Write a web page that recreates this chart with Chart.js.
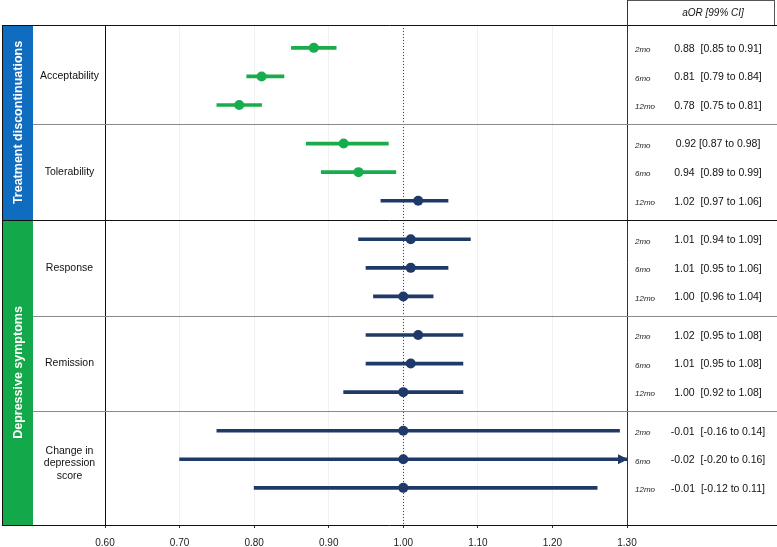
<!DOCTYPE html>
<html>
<head>
<meta charset="utf-8">
<script src="https://cdn.jsdelivr.net/npm/chart.js@4.4.1/dist/chart.umd.min.js"></script>
<style>
    html, body { margin: 0; padding: 0; background: #fff; }
    #wrap { width: 777px; height: 547px; }
</style>
</head>
<body>
<div id="wrap"><canvas id="forest"></canvas></div>
<script>
// ---- Data ----
const groups = ['Treatment discontinuations', 'Depressive symptoms'];
const outcomes = ['Acceptability', 'Tolerability', 'Response', 'Remission', 'Change in\ndepression\nscore'];
const outcomeGroup = [0, 0, 1, 1, 1];
const periods = ['2mo', '6mo', '12mo'];

// one entry per outcome x period (plotted position on the aOR axis)
const estimates = [0.88, 0.81, 0.78, 0.92, 0.94, 1.02, 1.01, 1.01, 1.00, 1.02, 1.01, 1.00, 1.00, 1.00, 1.00];
const lower = [0.85, 0.79, 0.75, 0.87, 0.89, 0.97, 0.94, 0.95, 0.96, 0.95, 0.95, 0.92, 0.75, 0.70, 0.80];
const upper = [0.91, 0.84, 0.81, 0.98, 0.99, 1.06, 1.09, 1.06, 1.04, 1.08, 1.08, 1.08, 1.29, 1.30, 1.26];
const ciLabels = [
    '0.88  [0.85 to 0.91]', '0.81  [0.79 to 0.84]', '0.78  [0.75 to 0.81]',
    '0.92 [0.87 to 0.98]', '0.94  [0.89 to 0.99]', '1.02  [0.97 to 1.06]',
    '1.01  [0.94 to 1.09]', '1.01  [0.95 to 1.06]', '1.00  [0.96 to 1.04]',
    '1.02  [0.95 to 1.08]', '1.01  [0.95 to 1.08]', '1.00  [0.92 to 1.08]',
    '-0.01  [-0.16 to 0.14]', '-0.02  [-0.20 to 0.16]', '-0.01  [-0.12 to 0.11]'
];
const significant = [true, true, true, true, true, false, false, false, false, false, false, false, false, false, false];
const xTicks = [0.60, 0.70, 0.80, 0.90, 1.00, 1.10, 1.20, 1.30];

// ---- Layout helpers ----
const GREEN = '#17ad4c';
const NAVY = '#1f3a69';
const GROUP_COLORS = ['#0f6cbf', '#13a84a'];
const SECTION_GAP = 0.35;
const FONT = '"Liberation Sans", Arial, Helvetica, sans-serif';

const rowPos = function (i) {
    return i + Math.floor(i / periods.length) * SECTION_GAP;
};
const nRows = estimates.length;
const yMin = -0.8;
const yMax = rowPos(nRows - 1) + 1.3;

// boundary between section s-1 and s
const sectionEdge = function (s) {
    if (s <= 0) { return yMin; }
    if (s >= outcomes.length) { return yMax; }
    const k = s * periods.length;
    return (rowPos(k - 1) + rowPos(k)) / 2;
};

const colors = significant.map(s => (s ? GREEN : NAVY));
const barData = estimates.map((v, i) => ({ x: [lower[i], upper[i]], y: rowPos(i) }));
const pointData = estimates.map((v, i) => ({ x: v, y: rowPos(i) }));

const hline = function (ctx, x0, x1, y, color) {
    ctx.strokeStyle = color;
    ctx.beginPath();
    ctx.moveTo(x0, Math.round(y) + 0.5);
    ctx.lineTo(x1, Math.round(y) + 0.5);
    ctx.stroke();
};
const vline = function (ctx, x, y0, y1, color) {
    ctx.strokeStyle = color;
    ctx.beginPath();
    ctx.moveTo(Math.round(x) + 0.5, y0);
    ctx.lineTo(Math.round(x) + 0.5, y1);
    ctx.stroke();
};

const panelPlugin = {
    id: 'forestPanels',
    beforeDatasetsDraw(chart) {
        const { ctx, chartArea: a, scales: { x } } = chart;
        ctx.save();
        ctx.lineWidth = 1;
        ctx.setLineDash([1, 2]);
        vline(ctx, x.getPixelForValue(1), a.top, a.bottom, '#444');
        ctx.restore();
    },
    afterDatasetsDraw(chart) {
        // arrow where the interval runs off the axis
        const { ctx, scales: { x, y } } = chart;
        ctx.save();
        ctx.fillStyle = NAVY;
        upper.forEach((u, i) => {
            if (u >= x.max) {
                const tip = x.getPixelForValue(x.max) + 1;
                const py = y.getPixelForValue(rowPos(i));
                ctx.beginPath();
                ctx.moveTo(tip, py);
                ctx.lineTo(tip - 10, py - 5);
                ctx.lineTo(tip - 10, py + 5);
                ctx.closePath();
                ctx.fill();
            }
        });
        ctx.restore();
    },
    afterDraw(chart) {
        const { ctx, chartArea: a, scales: { y } } = chart;
        const W = chart.width;
        const left = 2;
        const bandRight = 33;
        ctx.save();
        ctx.lineWidth = 1;

        // group colour bands with rotated titles
        let sStart = 0;
        groups.forEach((g, gi) => {
            const count = outcomeGroup.filter(v => v === gi).length;
            const top = y.getPixelForValue(sectionEdge(sStart));
            const bottom = y.getPixelForValue(sectionEdge(sStart + count));
            ctx.fillStyle = GROUP_COLORS[gi];
            ctx.fillRect(left, top, bandRight - left, bottom - top);
            ctx.save();
            ctx.translate((left + bandRight) / 2 + 1, (top + bottom) / 2);
            ctx.rotate(-Math.PI / 2);
            ctx.fillStyle = '#fff';
            ctx.font = 'bold 12.5px ' + FONT;
            ctx.textAlign = 'center';
            ctx.textBaseline = 'middle';
            ctx.fillText(g, 0, 0);
            ctx.restore();
            sStart += count;
        });

        // outcome labels
        ctx.fillStyle = '#111';
        ctx.font = '10.5px ' + FONT;
        ctx.textAlign = 'center';
        ctx.textBaseline = 'middle';
        outcomes.forEach((o, s) => {
            const lines = o.split('\n');
            const mid = y.getPixelForValue(rowPos(s * periods.length + 1)) + (lines.length > 1 ? 4 : 0);
            lines.forEach((ln, li) => {
                ctx.fillText(ln, (bandRight + a.left) / 2 + 0.5, mid + (li - (lines.length - 1) / 2) * 12.5);
            });
        });

        // right-hand table
        ctx.textAlign = 'center';
        ctx.font = 'italic 10px ' + FONT;
        ctx.fillText('aOR [99% CI]', a.right + 86, 13);
        estimates.forEach((v, i) => {
            const py = y.getPixelForValue(rowPos(i)) + 1;
            ctx.textAlign = 'left';
            ctx.font = 'italic 8px ' + FONT;
            ctx.fillStyle = '#222';
            ctx.fillText(periods[i % periods.length], a.right + 8, py + 1);
            ctx.textAlign = 'center';
            ctx.font = '10.5px ' + FONT;
            ctx.fillStyle = '#111';
            ctx.fillText(ciLabels[i], a.right + 91, py);
        });

        // frame
        hline(ctx, left, W, a.top, '#111');
        hline(ctx, a.right, W - 2, 0, '#555');
        vline(ctx, W - 3, 0, a.top, '#555');
        hline(ctx, left, W, a.bottom, '#111');
        vline(ctx, left, a.top, a.bottom, '#111');
        vline(ctx, a.left, a.top, a.bottom, '#111');
        vline(ctx, a.right, 0, a.bottom, '#333');
        for (let s = 1; s < outcomes.length; s++) {
            const py = y.getPixelForValue(sectionEdge(s));
            const groupBreak = outcomeGroup[s] !== outcomeGroup[s - 1];
            if (groupBreak) {
                hline(ctx, left, W, py, '#111');
            } else {
                hline(ctx, bandRight, W, py, '#8a8a8a');
            }
        }
        ctx.restore();
    }
};

new Chart(document.getElementById('forest').getContext('2d'), {
    type: 'bar',
    data: {
        datasets: [{
            type: 'bar',
            indexAxis: 'y',
            data: barData,
            backgroundColor: colors,
            barThickness: 3,
            borderWidth: 0,
            order: 2
        }, {
            type: 'scatter',
            data: pointData,
            backgroundColor: colors,
            borderWidth: 0,
            pointRadius: 5,
            order: 1
        }]
    },
    options: {
        indexAxis: 'y',
        responsive: true,
        maintainAspectRatio: false,
        animation: false,
        layout: { padding: { left: 105, right: 150, top: 25, bottom: 0 } },
        plugins: {
            legend: { display: false },
            tooltip: { enabled: false }
        },
        scales: {
            x: {
                type: 'linear',
                position: 'bottom',
                min: 0.6,
                max: 1.3,
                afterBuildTicks: function (scale) {
                    scale.ticks = xTicks.map(v => ({ value: v }));
                },
                afterFit: function (scale) {
                    scale.height = 22;
                },
                ticks: {
                    padding: 9,
                    color: '#222',
                    font: { family: FONT, size: 10 },
                    callback: v => Number(v).toFixed(2)
                },
                grid: {
                    color: '#f1f1f1',
                    tickColor: '#333',
                    tickLength: 3
                },
                border: { display: false }
            },
            y: {
                type: 'linear',
                display: false,
                reverse: true,
                offset: false,
                min: yMin,
                max: yMax
            }
        }
    },
    plugins: [panelPlugin]
});
</script>
</body>
</html>
